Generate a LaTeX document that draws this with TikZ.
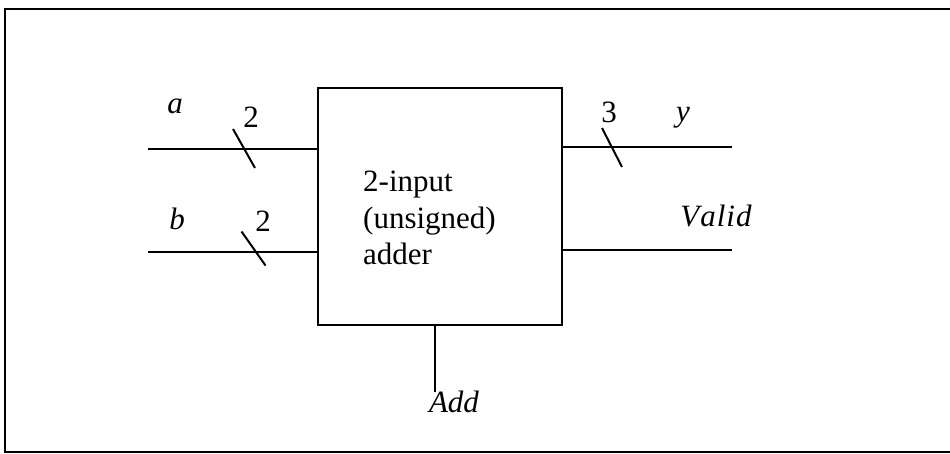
\documentclass[tikz,border=0pt]{standalone}
\usepackage{fontspec}
\setmainfont{Liberation Serif}
\usepackage{tikz}
\usetikzlibrary{positioning,calc}
\tikzset{
  adderbox/.style={draw,line width=2.6pt,minimum width=244pt,minimum height=237pt,inner sep=0pt},
  boxtext/.style={align=left,anchor=west,inner sep=0pt,font=\fontsize{31}{36.5}\selectfont},
  wire/.style={line width=2.2pt},
  bustick/.style={line width=2pt},
  sigl/.style={inner sep=0pt,font=\fontsize{31}{34}\selectfont\itshape},
  busw/.style={inner sep=0pt,font=\fontsize{31}{34}\selectfont},
  frameline/.style={line width=2.8pt}
}

\begin{document}
\begin{tikzpicture}[x=1pt,y=-1pt]
\useasboundingbox (0,0) rectangle (950,454);
% outer frame (right side cut off)
\draw[frameline] (950,9) -- (5,9) -- (5,452) -- (950,452);
% adder
\node[adderbox] (adder) at (440,206.5) {};
\node[boxtext] (addtxt) at (363,218) {2-input\\(unsigned)\\adder};
% port ends
\coordinate (ain) at (148,149);
\coordinate (bin) at (148,252);
\coordinate (yout) at (732,147);
\coordinate (vout) at (732,250);
\coordinate (addin) at (435,392);
\draw[wire] (ain) -- (ain -| adder.west);
\draw[wire] (bin) -- (bin -| adder.west);
\draw[wire] (yout -| adder.east) -- (yout);
\draw[wire] (vout -| adder.east) -- (vout);
\draw[wire] (addin |- adder.south) -- (addin);
% bus width ticks
\draw[bustick] (244,148.5) +(-11,-19.5) -- +(11,19.5);
\draw[bustick] (253.5,248.5) +(-12,-17) -- +(12,17);
\draw[bustick] (612,147.5) +(-10,-19.5) -- +(10,19.5);
% labels
\node[sigl] (alab) at (175,106) {a};
\node[busw] (aw) at (251,117) {2};
\node[sigl] (blab) at (177,219) {b};
\node[busw] (bw) at (263,221) {2};
\node[busw] (yw) at (609,112) {3};
\node[sigl] (ylab) at (683,118) {y};
\node[sigl] (vlab) at (716,216) {V\kern1pt a\kern1pt l\kern1pt i\kern1pt d};
\node[sigl] (addlab) at (454,402) {Add};
\end{tikzpicture}
\end{document}
